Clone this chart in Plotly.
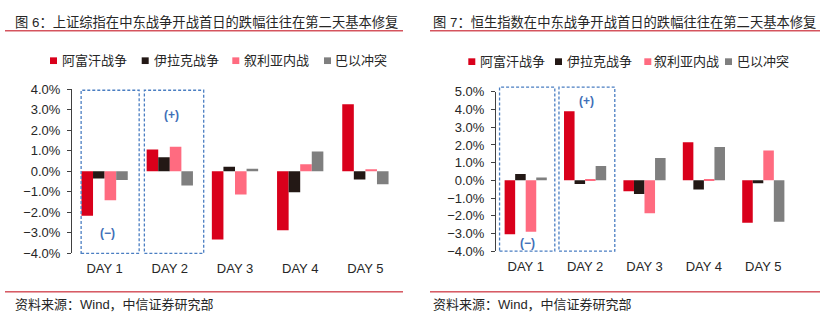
import plotly.graph_objects as go

# ---------------- data ----------------
days = ["DAY 1", "DAY 2", "DAY 3", "DAY 4", "DAY 5"]
series_names = ["阿富汗战争", "伊拉克战争", "叙利亚内战", "巴以冲突"]

# 上证综指 (%)
sh_afghan = [-2.17, 1.05, -3.32, -2.87, 3.26]
sh_iraq = [-0.36, 0.68, 0.22, -1.02, -0.40]
sh_syria = [-1.41, 1.19, -1.13, 0.34, 0.10]
sh_pal = [-0.43, -0.70, 0.12, 0.96, -0.64]

# 恒生指数 (%)
hs_afghan = [-3.05, 3.91, -0.61, 2.16, -2.40]
hs_iraq = [0.36, -0.20, -0.77, -0.52, -0.16]
hs_syria = [-2.90, 0.05, -1.86, 0.05, 1.69]
hs_pal = [0.16, 0.81, 1.26, 1.89, -2.34]

title_left = "图 6：上证综指在中东战争开战首日的跌幅往往在第二天基本修复"
title_right = "图 7：恒生指数在中东战争开战首日的跌幅往往在第二天基本修复"
source_text = "资料来源：Wind，中信证券研究部"

# ---------------- style ----------------
W, H = 835, 324
colors = ["#D9001B", "#231815", "#FF6B80", "#7F7F7F"]
FONT = "Liberation Sans, Noto Sans CJK SC, sans-serif"
TXT = "#262626"
AX = "#404040"
RULE = "#C0000F"
BOX = "#4A7EC2"


def px_x(p):
    return p / W


def px_y(p):
    return (H - p) / H


fig = go.Figure()

left_series = [sh_afghan, sh_iraq, sh_syria, sh_pal]
right_series = [hs_afghan, hs_iraq, hs_syria, hs_pal]
for name, col, vals in zip(series_names, colors, left_series):
    fig.add_trace(go.Bar(x=days, y=vals, name=name, marker=dict(color=col, line=dict(width=0)),
                         xaxis="x", yaxis="y", showlegend=False))
for name, col, vals in zip(series_names, colors, right_series):
    fig.add_trace(go.Bar(x=days, y=vals, name=name, marker=dict(color=col, line=dict(width=0)),
                         xaxis="x2", yaxis="y2", showlegend=False))

# domains (pixel based)
L_dom_x = [px_x(72), px_x(398)]
L_dom_y = [px_y(258.3), px_y(86)]
R_dom_x = [px_x(496), px_x(793)]
R_dom_y = [px_y(256), px_y(89)]
L_range = [-4, 4]
R_range = [-4, 5]


def zero_pos(dom, rng):
    return dom[0] + (0 - rng[0]) / (rng[1] - rng[0]) * (dom[1] - dom[0])


tickfont = dict(family=FONT, size=13, color=TXT)
xcommon = dict(type="category", showline=False, ticks="", showgrid=False, zeroline=False,
               tickfont=tickfont, ticklabelstandoff=6, fixedrange=True)
ycommon = dict(showline=True, linecolor=AX, linewidth=1, ticks="outside", ticklen=4,
               tickcolor=AX, showgrid=False, zeroline=False, dtick=1, tickformat=".1f",
               ticksuffix="%", tickfont=tickfont, ticklabelstandoff=4)
zcommon = dict(range=[-0.5, 4.5], tickvals=[-0.5, 0.5, 1.5, 2.5, 3.5, 4.5], showticklabels=False,
               showline=True, linecolor=AX, linewidth=1, ticks="outside", ticklen=4,
               tickcolor=AX, showgrid=False, zeroline=False, anchor="free", side="bottom")

fig.update_layout(
    width=W, height=H, margin=dict(l=0, r=0, t=0, b=0),
    paper_bgcolor="white", plot_bgcolor="white",
    barmode="group", bargap=0.29, bargroupgap=0,
    xaxis=dict(domain=L_dom_x, anchor="y", **xcommon),
    yaxis=dict(domain=L_dom_y, anchor="x", range=L_range, **ycommon),
    xaxis2=dict(domain=R_dom_x, anchor="y2", **xcommon),
    yaxis2=dict(domain=R_dom_y, anchor="x2", range=R_range, **ycommon),
    xaxis3=dict(domain=L_dom_x, overlaying="x", position=zero_pos(L_dom_y, L_range), **zcommon),
    xaxis4=dict(domain=R_dom_x, overlaying="x2", position=zero_pos(R_dom_y, R_range), **zcommon),
    font=dict(family=FONT, color=TXT),
)

shapes = []
annotations = []

# titles, rules, sources
for tx, x0, x1, title in [(13, 5, 403, title_left), (431, 430, 820, title_right)]:
    annotations.append(dict(text=title, x=px_x(tx), y=px_y(16), xref="paper", yref="paper",
                            xanchor="left", yanchor="middle", showarrow=False,
                            font=dict(family=FONT, size=13.3, color=TXT)))
    annotations.append(dict(text=source_text, x=px_x(tx), y=px_y(311.7), xref="paper", yref="paper",
                            xanchor="left", yanchor="middle", showarrow=False,
                            font=dict(family=FONT, size=13, color=TXT)))
    for yy in (25, 298.7):
        shapes.append(dict(type="line", xref="paper", yref="paper", x0=px_x(x0), x1=px_x(x1),
                           y0=px_y(yy), y1=px_y(yy), line=dict(color=RULE, width=1)))

# legends (manual)
legend_sets = [
    (56.3, [50, 141.7, 232.3, 324], [60, 151.7, 242.3, 333.3]),
    (57.3, [468.3, 555, 644.3, 725], [478.3, 564.5, 652.3, 735]),
]
for yc, sq_xs, tx_xs in legend_sets:
    for name, col, sx, tx in zip(series_names, colors, sq_xs, tx_xs):
        shapes.append(dict(type="rect", xref="paper", yref="paper",
                           x0=px_x(sx), x1=px_x(sx + 7), y0=px_y(yc + 3.5), y1=px_y(yc - 3.5),
                           fillcolor=col, line=dict(width=0)))
        annotations.append(dict(text=name, x=px_x(tx), y=px_y(yc), xref="paper", yref="paper",
                                xanchor="left", yanchor="middle", showarrow=False,
                                font=dict(family=FONT, size=13, color=TXT)))

# dashed highlight boxes
box_specs = [
    ("x", L_dom_y, [(-0.36, 0.53), (0.61, 1.52)], (87.3, 258.3)),
    ("x2", R_dom_y, [(-0.44, 0.49), (0.56, 1.50)], (84, 256)),
]
for xr, dom, spans, (ytop, ybot) in box_specs:
    for a, b in spans:
        shapes.append(dict(type="rect", xref=xr, yref="paper", x0=a, x1=b,
                           y0=px_y(ybot), y1=px_y(ytop), line=dict(color=BOX, width=1.3, dash="3px,2px"),
                           fillcolor="rgba(0,0,0,0)", layer="above"))

mark_font = dict(family=FONT, size=12, color="#3F6FB8")
for xr, yr, pos in [("x", "y", [(1.02, 2.74, "(+)"), (0.05, -3.0, "(−)")]),
                    ("x2", "y2", [(1.03, 4.49, "(+)"), (0.03, -3.53, "(−)")])]:
    for xx, yy, t in pos:
        annotations.append(dict(text="<b>" + t + "</b>", x=xx, y=yy, xref=xr, yref=yr,
                                showarrow=False, font=mark_font, xanchor="center", yanchor="middle"))

fig.update_layout(shapes=shapes, annotations=annotations)
fig.write_html("out.html")
